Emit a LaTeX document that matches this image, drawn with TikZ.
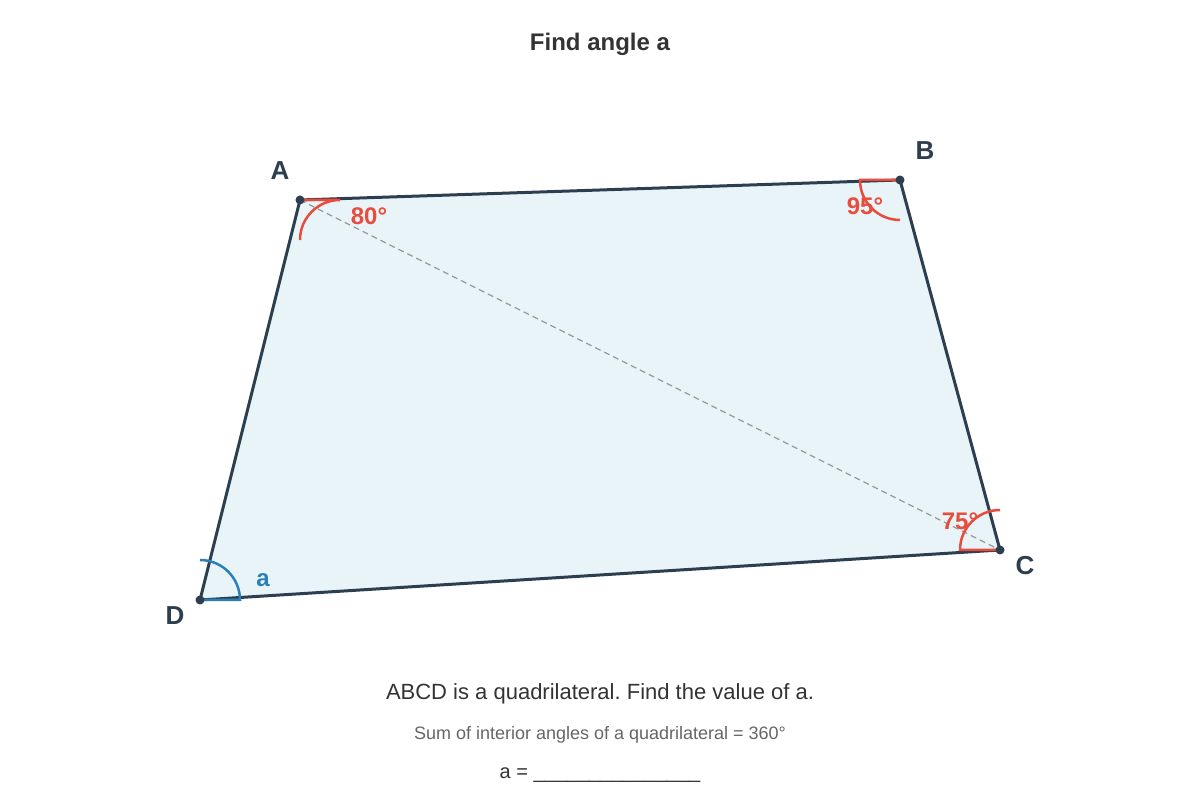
\documentclass[tikz,border=0pt]{standalone}
\usepackage{fontspec}
\setmainfont{Liberation Sans}
\frenchspacing
\definecolor{edgecol}{HTML}{2C3E50}
\definecolor{fillcol}{HTML}{E8F4F8}
\definecolor{redcol}{HTML}{E74C3C}
\definecolor{bluecol}{HTML}{2980B9}
\definecolor{textcol}{HTML}{333333}
\definecolor{subcol}{HTML}{666666}
\definecolor{diagcol}{HTML}{999999}
\begin{document}
\begin{tikzpicture}[x=1pt,y=1pt,
  vdot/.style={circle,fill=edgecol,inner sep=0pt,minimum size=9pt},
  vlabel/.style={text=edgecol,font=\fontsize{26}{30}\selectfont\bfseries},
  anglabel/.style={text=redcol,font=\fontsize{24}{28}\selectfont\bfseries},
  redarc/.style={draw=redcol,line width=2.5pt},
  bluearc/.style={draw=bluecol,line width=2.5pt},
  edge/.style={draw=edgecol,line width=3pt,line join=round},
  diag/.style={draw=diagcol,line width=1.2pt,dash pattern=on 6pt off 4pt}]
\useasboundingbox[fill=white] (0,0) rectangle (1200,800);
% vertices
\coordinate (A) at (300,600);
\coordinate (B) at (900,620);
\coordinate (C) at (1000,250);
\coordinate (D) at (200,200);
% fill
\fill[fillcol] (A) -- (B) -- (C) -- (D) -- cycle;
% diagonal
\draw[diag] (A) -- (C);
% edges
\draw[edge] (A) -- (B) -- (C) -- (D) -- cycle;
% angle marks
\draw[redarc] (A) -- ++(40,0) arc[start angle=90,end angle=180,radius=40];
\draw[redarc] (B) -- ++(-40,0) arc[start angle=180,end angle=270,radius=40];
\draw[redarc] (C) -- ++(-40,0) arc[start angle=180,end angle=90,radius=40];
\draw[bluearc] (D) -- ++(40,0) arc[start angle=0,end angle=90,radius=40];
% dots
\node[vdot] (dA) at (A) {};
\node[vdot] (dB) at (B) {};
\node[vdot] (dC) at (C) {};
\node[vdot] (dD) at (D) {};
% vertex labels
\node[vlabel] (lA) at (280,629) {A};
\node[vlabel] (lB) at (925,649) {B};
\node[vlabel] (lC) at (1025,234) {C};
\node[vlabel] (lD) at (175,184) {D};
% angle labels
\node[anglabel] (a80) at (369,584) {80°};
\node[anglabel] (a95) at (865,594) {95°};
\node[anglabel] (a75) at (960,279) {75°};
\node[text=bluecol,font=\fontsize{24}{28}\selectfont\bfseries] (aa) at (263,220) {a};
% texts
\node[text=textcol,font=\fontsize{24}{28}\selectfont\bfseries] (title) at (600,756) {Find angle a};
\node[text=textcol,font=\fontsize{22}{26}\selectfont] (t1) at (600,106) {ABCD is a quadrilateral. Find the value of a.};
\node[text=subcol,font=\fontsize{18}{22}\selectfont] (t2) at (600,65) {Sum of interior angles of a quadrilateral = 360°};
\node[text=textcol,font=\fontsize{20}{24}\selectfont] (t3) at (600,25) {a = \_\_\_\_\_\_\_\_\_\_\_\_\_\_\_};
\end{tikzpicture}
\end{document}
